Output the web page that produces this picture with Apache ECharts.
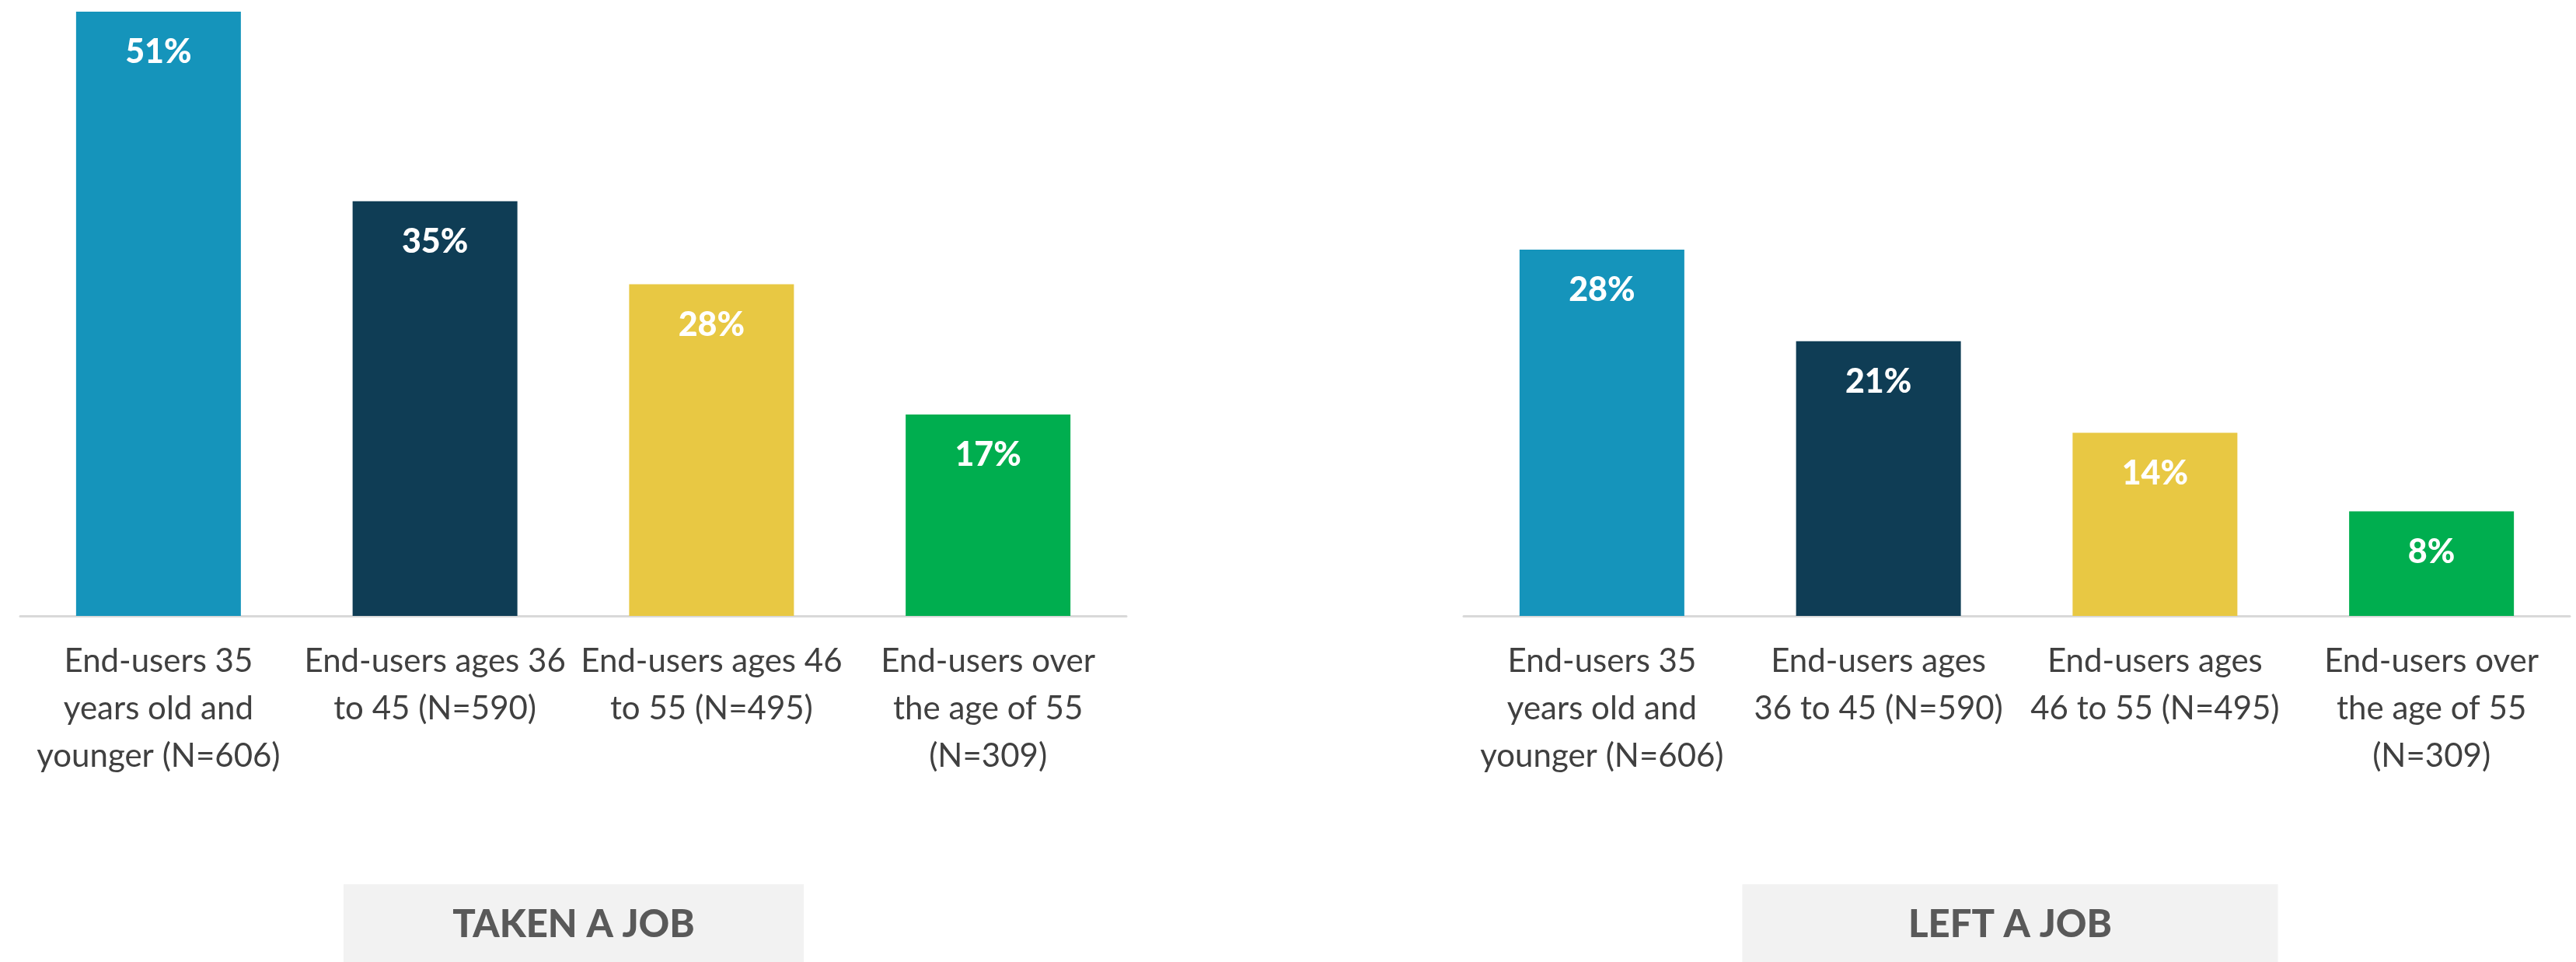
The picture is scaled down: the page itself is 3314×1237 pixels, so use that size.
<!DOCTYPE html>
<html>
<head>
<meta charset="utf-8">
<script src="https://cdn.jsdelivr.net/npm/echarts@6/dist/echarts.min.js"></script>
<style>
  html, body { margin: 0; padding: 0; background: #ffffff; }
  #chart { width: 3314px; height: 1237px; }
</style>
</head>
<body>
<div id="chart"></div>
<script>
// Share of end-users by age group (percent)
const takenCategories = [
  'End-users 35\nyears old and\nyounger (N=606)',
  'End-users ages 36\nto 45 (N=590)',
  'End-users ages 46\nto 55 (N=495)',
  'End-users over\nthe age of 55\n(N=309)'
];
const leftCategories = [
  'End-users 35\nyears old and\nyounger (N=606)',
  'End-users ages\n36 to 45 (N=590)',
  'End-users ages\n46 to 55 (N=495)',
  'End-users over\nthe age of 55\n(N=309)'
];
const takenValues = [51, 35, 28, 17];
const leftValues = [28, 21, 14, 8];
const panelTitles = ['TAKEN A JOB', 'LEFT A JOB'];
const barColors = ['#1594BB', '#0F3D55', '#E8C843', '#00AE4F'];

const FONT = 'Lato, "Noto Sans", sans-serif';

function xAxisFor(gridIndex, cats) {
  return {
    type: 'category',
    gridIndex: gridIndex,
    data: cats,
    axisLine: { show: true, lineStyle: { color: '#D9D9D9', width: 3 } },
    axisTick: { show: false },
    axisLabel: {
      interval: 0,
      hideOverlap: false,
      margin: 28,
      color: '#404040',
      fontFamily: FONT,
      fontSize: 42,
      lineHeight: 61,
      align: 'center'
    }
  };
}

function yAxisFor(gridIndex, maxVal) {
  return {
    type: 'value',
    gridIndex: gridIndex,
    min: 0,
    max: maxVal,
    show: false,
    splitLine: { show: false }
  };
}

function barSeries(index, values) {
  return {
    type: 'bar',
    xAxisIndex: index,
    yAxisIndex: index,
    barWidth: 212,
    data: values.map((v, i) => ({ value: v, itemStyle: { color: barColors[i] } })),
    label: {
      show: true,
      position: 'insideTop',
      distance: 31,
      color: '#ffffff',
      fontFamily: FONT,
      fontWeight: 900,
      fontSize: 43,
      formatter: p => p.value + '%'
    },
    silent: true,
    animation: false
  };
}

function titleBox(cx, width, text) {
  return {
    type: 'group',
    children: [
      {
        type: 'rect',
        shape: { x: cx - width / 2, y: 1137, width: width, height: 100 },
        style: { fill: '#F2F2F2' }
      },
      {
        type: 'text',
        x: cx,
        y: 1189,
        style: {
          text: text,
          fill: '#595959',
          font: '900 49px ' + FONT,
          textAlign: 'center',
          textVerticalAlign: 'middle'
        }
      }
    ]
  };
}

const chart = echarts.init(document.getElementById('chart'), null, { renderer: 'canvas' });
chart.setOption({
  backgroundColor: '#ffffff',
  animation: false,
  grid: [
    { left: 26, width: 1423, top: 15, bottom: 445 },
    { left: 1883, width: 1423, top: 321, bottom: 445 }
  ],
  xAxis: [xAxisFor(0, takenCategories), xAxisFor(1, leftCategories)],
  yAxis: [yAxisFor(0, Math.max(...takenValues)), yAxisFor(1, Math.max(...leftValues))],
  series: [barSeries(0, takenValues), barSeries(1, leftValues)],
  graphic: [
    titleBox(738, 592, panelTitles[0]),
    titleBox(2586, 689, panelTitles[1])
  ]
});
</script>
</body>
</html>
